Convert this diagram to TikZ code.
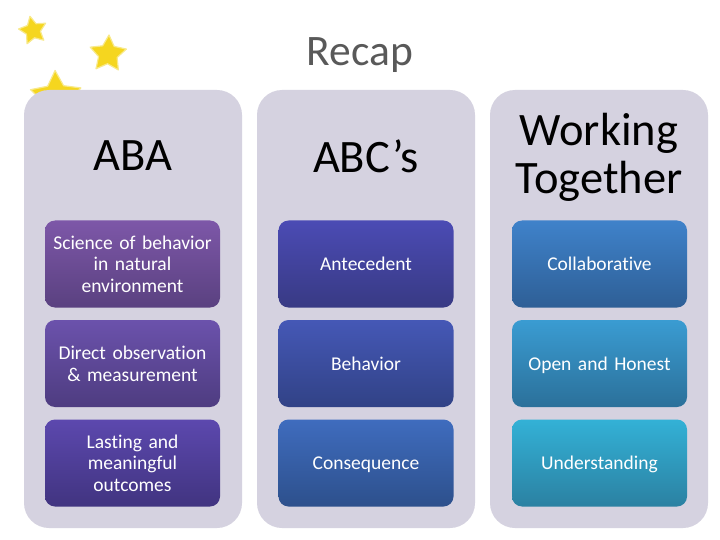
\documentclass[tikz,border=0pt]{standalone}
\usepackage{fontspec}
\setmainfont[Ligatures=NoCommon]{Carlito}
\usetikzlibrary{shapes.geometric}
\definecolor{panelc}{HTML}{D5D2E0}
\definecolor{starc}{HTML}{F5D61F}
\definecolor{starb}{HTML}{F8E98A}
\tikzset{
  panel/.style={fill=panelc,draw=none,rounded corners=25pt},
  head/.style={text=black,font=\fontsize{46.5}{48}\selectfont,align=center,inner sep=0pt},
  item/.style={rounded corners=10pt,draw=none,text=white,font=\fontsize{19.5}{21.7}\selectfont,align=center,
    minimum width=175pt,minimum height=87pt,inner sep=0pt,text width=170pt,anchor=center,shading angle=0},
  starn/.style={star,star points=5,star point ratio=1.95,fill=starc,draw=starb,line width=1.2pt,inner sep=0pt,line join=round},
}
\newcommand{\itemnode}[6]{\node[item,top color=#4,bottom color=#5] (#1) at (#2,#3) {\rule{0pt}{20.2pt}#6\strut};}
\begin{document}
\begin{tikzpicture}[x=1pt,y=-1pt]
\useasboundingbox (0,0) rectangle (720,540);
\fill[white] (0,0) rectangle (720,540);
\node[starn,minimum size=29pt,rotate=12] (s1) at (33,30.5) {};
\node[starn,minimum size=38pt,rotate=-3] (s2) at (108,54) {};
\node[starn,minimum size=53pt,rotate=2] (s3) at (56,97) {};
\node[text=black!65,font=\fontsize{43.5}{48}\selectfont,inner sep=0pt] (title) at (360,55) {Recap};
\fill[panel] (24,90) rectangle (242,528);
\fill[panel] (257,90) rectangle (475,528);
\fill[panel] (490,90) rectangle (708,528);
\node[head] (h1) at (133,156) {ABA};
\node[head] (h2) at (366,156) {ABC’s};
\node[head] (h3) at (599,157) {Working\\Together};
\definecolor{a1t}{HTML}{7D57A8}\definecolor{a1b}{HTML}{5A4180}
\definecolor{a2t}{HTML}{6B52AC}\definecolor{a2b}{HTML}{4E3C80}
\definecolor{a3t}{HTML}{5C48AE}\definecolor{a3b}{HTML}{413480}
\definecolor{b1t}{HTML}{4B4BB4}\definecolor{b1b}{HTML}{383A84}
\definecolor{b2t}{HTML}{4558B6}\definecolor{b2b}{HTML}{314286}
\definecolor{b3t}{HTML}{3F6CBE}\definecolor{b3b}{HTML}{2D508C}
\definecolor{c1t}{HTML}{3F82CA}\definecolor{c1b}{HTML}{2E5F96}
\definecolor{c2t}{HTML}{3A9CD2}\definecolor{c2b}{HTML}{2B709A}
\definecolor{c3t}{HTML}{33B1D6}\definecolor{c3b}{HTML}{2B81A2}
\itemnode{a1}{132.5}{264}{a1t}{a1b}{Science of behavior\\in natural\\environment}
\itemnode{a2}{132.5}{363.5}{a2t}{a2b}{Direct observation\\\& measurement}
\itemnode{a3}{132.5}{463}{a3t}{a3b}{Lasting and\\meaningful\\outcomes}
\itemnode{b1}{366}{264}{b1t}{b1b}{Antecedent}
\itemnode{b2}{366}{363.5}{b2t}{b2b}{Behavior}
\itemnode{b3}{366}{463}{b3t}{b3b}{Consequence}
\itemnode{c1}{599.5}{264}{c1t}{c1b}{Collaborative}
\itemnode{c2}{599.5}{363.5}{c2t}{c2b}{Open and Honest}
\itemnode{c3}{599.5}{463}{c3t}{c3b}{Understanding}
\end{tikzpicture}
\end{document}
